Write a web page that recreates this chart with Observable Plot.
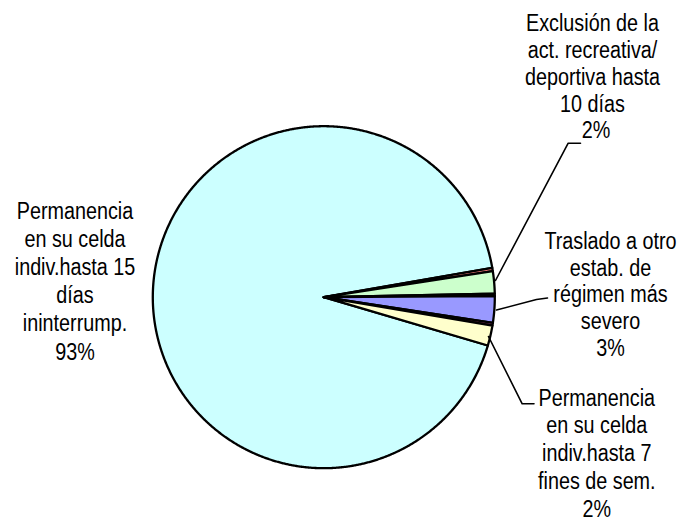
<!DOCTYPE html>
<html><head><meta charset="utf-8">
<script src="https://cdn.jsdelivr.net/npm/d3@7"></script>
<script src="https://cdn.jsdelivr.net/npm/@observablehq/plot@0.6"></script>
<style>body{margin:0;background:#fff}</style>
</head><body><div id="chart"></div>
<script>
// ---- data ----
const categories = ["Sanción menor A", "Exclusión de la act. recreativa/ deportiva hasta 10 días", "Sanción menor B", "Traslado a otro estab. de régimen más severo", "Sanción menor C", "Permanencia en su celda indiv.hasta 7 fines de sem.", "Permanencia en su celda indiv.hasta 15 días ininterrump."];
const values = [0.3, 2.1, 0.25, 2.5, 0.25, 1.9, 92.7];
const labelLines = [
  null,
  ["Exclusión de la", "act. recreativa/", "deportiva hasta", "10 días"],
  null,
  ["Traslado a otro", "estab. de", "régimen más", "severo"],
  null,
  ["Permanencia", "en su celda", "indiv.hasta 7", "fines de sem."],
  ["Permanencia", "en su celda", "indiv.hasta 15", "días", "ininterrump."]
];
const percentLabels = ["", "2%", "", "3%", "", "2%", "93%"];

// ---- styles / layout ----
const sliceColors = ["#FF8080", "#CCFFCC", "#993366", "#9999FF", "#993366", "#FFFFCC", "#CCFFFF"];
const W = 689, H = 523;
const cx = 323.3, cy = 296.7, R = 171;
const startDeg = 80.13;
// label layout: [centerX, firstBaseline, lineSpacing]
const labelLayout = {1: [592, 30.7, 26.8], 3: [610, 248.3, 26.7], 5: [596.3, 405, 27.9], 6: [74.5, 218, 28.2]};
const leaderLayout = {
  1: [[495, 280], [567.7, 142.7], [580, 142.7]],
  3: [[496, 309.5], [536, 299], [547, 297.5]],
  5: [[488, 336], [521.7, 403.3], [533.5, 403.3]]
};
const fontSize = 23;
const narrow = 0.86;

const arcs = d3.pie().sort(null).value(d => d)
  .startAngle(startDeg * Math.PI / 180)
  .endAngle(startDeg * Math.PI / 180 + 2 * Math.PI)(values);

const pts = [];
arcs.forEach((a, i) => {
  pts.push({k: i, x: cx, y: cy, c: sliceColors[i]});
  const n = Math.max(2, Math.ceil((a.endAngle - a.startAngle) / 0.005));
  for (let j = 0; j <= n; j++) {
    const t = a.startAngle + (a.endAngle - a.startAngle) * j / n;
    pts.push({k: i, x: cx + R * Math.sin(t), y: cy - R * Math.cos(t), c: sliceColors[i]});
  }
});
const order = [6, 0, 1, 2, 3, 4, 5];
const ptsOrdered = order.flatMap(k => pts.filter(p => p.k === k));

const texts = [];
labelLines.forEach((lines, i) => {
  if (!lines) return;
  const [lx, b0, sp] = labelLayout[i];
  const all = [...lines, percentLabels[i]];
  all.forEach((s, j) => texts.push({x: lx + (i === 1 && j === all.length - 1 ? 3.5 : 0), y: b0 + j * sp, s}));
});
const leaders = Object.entries(leaderLayout).flatMap(([k, arr]) => arr.map(([x, y]) => ({k, x, y})));

const chart = Plot.plot({
  width: W, height: H,
  margin: 0,
  x: {domain: [0, W], range: [0, W], axis: null},
  y: {domain: [0, H], range: [0, H], axis: null},
  color: {type: "identity"},
  style: {fontFamily: "'Liberation Sans', Arial, sans-serif", background: "#fff"},
  marks: [
    Plot.line(ptsOrdered, {x: "x", y: "y", z: "k", fill: "c", stroke: "black", strokeWidth: 2.3, strokeLinejoin: "round", curve: "linear-closed"}),
    Plot.line(leaders, {x: "x", y: "y", z: "k", stroke: "black", strokeWidth: 1.6}),
    Plot.text(texts, {x: "x", y: "y", text: "s", fontSize, fill: "#000", textAnchor: "middle", lineAnchor: "bottom"})
  ]
});
// condense label glyphs horizontally (narrow face not installed)
chart.querySelectorAll('g[aria-label="text"] text').forEach(t => {
  const tr = t.getAttribute("transform") || "";
  t.setAttribute("transform", tr + ` scale(${narrow},1)`);
});
document.getElementById("chart").appendChild(chart);
</script>
</body></html>
